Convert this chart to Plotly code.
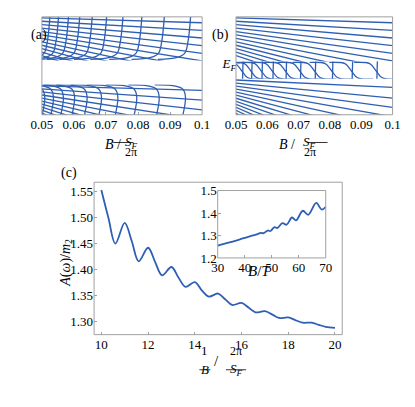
import plotly.graph_objects as go

W, H = 415, 407
BLUE = '#2f5fb3'
FONT = 'Liberation Serif'

# panel (a) / (b): Landau level positions (B in units of S_F/2pi), energies normalised 0..1
a_vert_x = [0.0513, 0.0540, 0.0571, 0.0606, 0.0645, 0.0690, 0.0741, 0.0800, 0.0870, 0.0952]
b_vert_x = [0.0518, 0.0547, 0.0580, 0.0615, 0.0657, 0.0703, 0.0750, 0.0805, 0.0868, 0.0947]
up_left = [0.99, 0.955, 0.92, 0.885, 0.85, 0.815, 0.78, 0.745, 0.71, 0.675, 0.64, 0.605]
up_right = [0.94, 0.862, 0.784, 0.706, 0.628, 0.55, 0.47, 0.39, 0.31, 0.23, 0.15, 0.07]
a_lo_left = [0.295, 0.264, 0.233, 0.202, 0.171, 0.14, 0.109, 0.078, 0.047, 0.016]
a_lo_right = [0.25, 0.15, 0.05, -0.05, -0.15, -0.25, -0.35, -0.45, -0.55, -0.65]
b_lo_left = [0.355, 0.324, 0.293, 0.262, 0.231, 0.2, 0.169, 0.138, 0.107, 0.076, 0.045, 0.014]
b_lo_right = [0.28, 0.17, 0.075, -0.02, -0.12, -0.22, -0.32, -0.42, -0.52, -0.62, -0.72, -0.82]
EF = 0.52

# panel (c)
c_x = [10, 10.3, 10.6, 11, 11.3, 11.6, 12, 12.3, 12.6, 13, 13.3, 13.6, 14, 14.3, 14.6, 15, 15.3,
       15.6, 16, 16.3, 16.6, 17, 17.3, 17.6, 18, 18.3, 18.6, 19, 19.3, 19.6, 20]
c_y = [1.553, 1.50, 1.450, 1.490, 1.455, 1.416, 1.442, 1.415, 1.389, 1.405, 1.385, 1.367, 1.376,
       1.360, 1.348, 1.354, 1.343, 1.332, 1.336, 1.327, 1.318, 1.320, 1.314, 1.307, 1.308, 1.303,
       1.298, 1.298, 1.294, 1.290, 1.288]
ins_x = [30, 34, 38, 41, 43, 44.5, 46, 47, 48.5, 49.5, 51, 52, 54, 55.5, 57.5, 59, 61.5, 63.5,
         66.5, 68.5, 70]
ins_y = [1.255, 1.268, 1.282, 1.293, 1.300, 1.305, 1.312, 1.310, 1.322, 1.320, 1.337, 1.333,
         1.355, 1.348, 1.380, 1.367, 1.410, 1.392, 1.445, 1.415, 1.428]

fig = go.Figure()


def ln(x, y, xa, ya, w=1.3, shape='spline'):
    fig.add_trace(go.Scatter(x=x, y=y, xaxis=xa, yaxis=ya, mode='lines', showlegend=False,
                             hoverinfo='skip', line=dict(color=BLUE, width=w, shape=shape)))


# (a)
for l, r in zip(up_left, up_right):
    ln([0.05, 0.1], [l, r], 'x', 'y2', shape='linear')
for xn in a_vert_x:
    ln([xn + 0.0012, xn + 0.0004, xn - 0.0006, xn - 0.003, xn - 0.009],
       [1.0, 0.75, 0.63, 0.585, 0.565], 'x', 'y2')
for l, r in zip(a_lo_left, a_lo_right):
    ln([0.05, 0.1], [l, r], 'x', 'y3', shape='linear')
for xn in a_vert_x:
    ln([xn - 0.0012, xn - 0.0004, xn - 0.0012, xn - 0.004, xn - 0.01],
       [0.0, 0.18, 0.26, 0.295, 0.305], 'x', 'y3')

# (b)
for l, r in zip(up_left, up_right):
    ln([0.05, 0.1], [l, r], 'x2', 'y5', shape='linear')
for l, r in zip(b_lo_left, b_lo_right):
    ln([0.05, 0.1], [l, r], 'x2', 'y6', shape='linear')
for xn in b_vert_x:
    ln([xn + 0.0008, xn], [1.0, 0.0], 'x2', 'y4', shape='linear')
    ln([xn - 0.007, xn - 0.002, xn, xn + 0.002, xn + 0.007],
       [0.535, 0.522, 0.45, 0.378, 0.365], 'x2', 'y4')

# (c)
ln(c_x, c_y, 'x3', 'y7', w=1.8)
ln(ins_x, ins_y, 'x4', 'y8', w=1.8)

fa = [25 / W, 200 / W]
fb = [237 / W, 408 / W]
ytop = [1 - 108 / H, 1 - 2 / H]
fc = ([82 / W, 353 / W], [1 - 346 / H, 1 - 181 / H])
fi = ([217 / W, 335 / W], [1 - 263 / H, 1 - 190 / H])


def sub(lo, hi):
    h = ytop[1] - ytop[0]
    return [ytop[0] + lo * h, ytop[0] + hi * h]


frame = dict(showline=False, showgrid=False, zeroline=False, ticks='inside', ticklen=3,
             tickcolor='#a0a0a0', tickfont=dict(family=FONT, size=13, color='black'))
hidden = dict(showline=False, showgrid=False, zeroline=False, showticklabels=False, ticks='')
xab = dict(frame, range=[0.05, 0.1], tickvals=[0.05, 0.06, 0.07, 0.08, 0.09, 0.1],
           ticktext=['0.05', '0.06', '0.07', '0.08', '0.09', '0.1'])
yef = dict(frame, range=[0, 1], tickvals=[EF], ticktext=['<i>E<sub>F</sub></i>'])

fig.update_layout(
    autosize=True, margin=dict(l=0, r=0, t=0, b=0),
    plot_bgcolor='white', paper_bgcolor='white',
    xaxis=dict(xab, domain=fa, anchor='free', position=ytop[0]),
    yaxis=dict(yef, domain=ytop, anchor='free', position=fa[0]),
    yaxis2=dict(hidden, domain=sub(0.555, 1), range=[0.555, 1], anchor='x'),
    yaxis3=dict(hidden, domain=sub(0, 0.31), range=[0, 0.31], anchor='x'),
    xaxis2=dict(xab, domain=fb, anchor='free', position=ytop[0]),
    yaxis4=dict(yef, domain=ytop, anchor='free', position=fb[0]),
    yaxis5=dict(hidden, domain=sub(0.545, 1), range=[0.545, 1], anchor='x2'),
    yaxis6=dict(hidden, domain=sub(0, 0.368), range=[0, 0.368], anchor='x2'),
    xaxis3=dict(frame, domain=fc[0], range=[9.69, 20.31], anchor='y7',
                tickvals=[10, 12, 14, 16, 18, 20]),
    yaxis7=dict(frame, domain=fc[1], range=[1.275, 1.568], anchor='x3',
                tickvals=[1.30, 1.35, 1.40, 1.45, 1.50, 1.55], tickformat='.2f'),
    xaxis4=dict(frame, domain=fi[0], range=[30, 70], anchor='y8',
                tickvals=[30, 40, 50, 60, 70]),
    yaxis8=dict(frame, domain=fi[1], range=[1.2, 1.5], anchor='x4',
                tickvals=[1.2, 1.3, 1.4, 1.5], tickformat='.1f'),
)

for dx, dy in [(fa, ytop), (fb, ytop), fc, fi]:
    fig.add_shape(type='rect', xref='paper', yref='paper', x0=dx[0], x1=dx[1], y0=dy[0],
                  y1=dy[1], line=dict(color='#a0a0a0', width=1), layer='above')


def txt(px, py, s, size=14, angle=0):
    fig.add_annotation(x=px / W, y=1 - py / H, xref='paper', yref='paper', text=s,
                       showarrow=False, textangle=angle,
                       font=dict(family=FONT, size=size, color='black'))


def hline(x0, x1, py):
    fig.add_shape(type='line', xref='paper', yref='paper', x0=x0 / W, x1=x1 / W,
                  y0=1 - py / H, y1=1 - py / H, line=dict(color='black', width=0.8))


txt(11, 11, '(a)')
txt(220, 11, '(b)')
txt(44, 171, '(c)')
for cx in (114, 326):
    txt(cx - 22, 140, '<i>B</i> /')
    txt(cx, 127, '<i>S<sub>F</sub></i>', 13)
    hline(cx - 11, cx + 11, 138)
    txt(cx, 148, '2π', 12)
txt(40, 268, '<i>A</i>(<i>ω</i>)/<i>m</i><sub>2</sub>', 14, -90)
txt(277, 288, '<i>B</i>/<i>T</i>', 15)
txt(203, 373, '1', 13)
hline(197, 209, 384)
txt(203, 394, '<i>B</i>', 13)
txt(216, 385, '/', 15)
txt(237, 373, '2π', 12)
hline(226, 248, 384)
txt(237, 395, '<i>S<sub>F</sub></i>', 13)

fig.write_html("out.html")
